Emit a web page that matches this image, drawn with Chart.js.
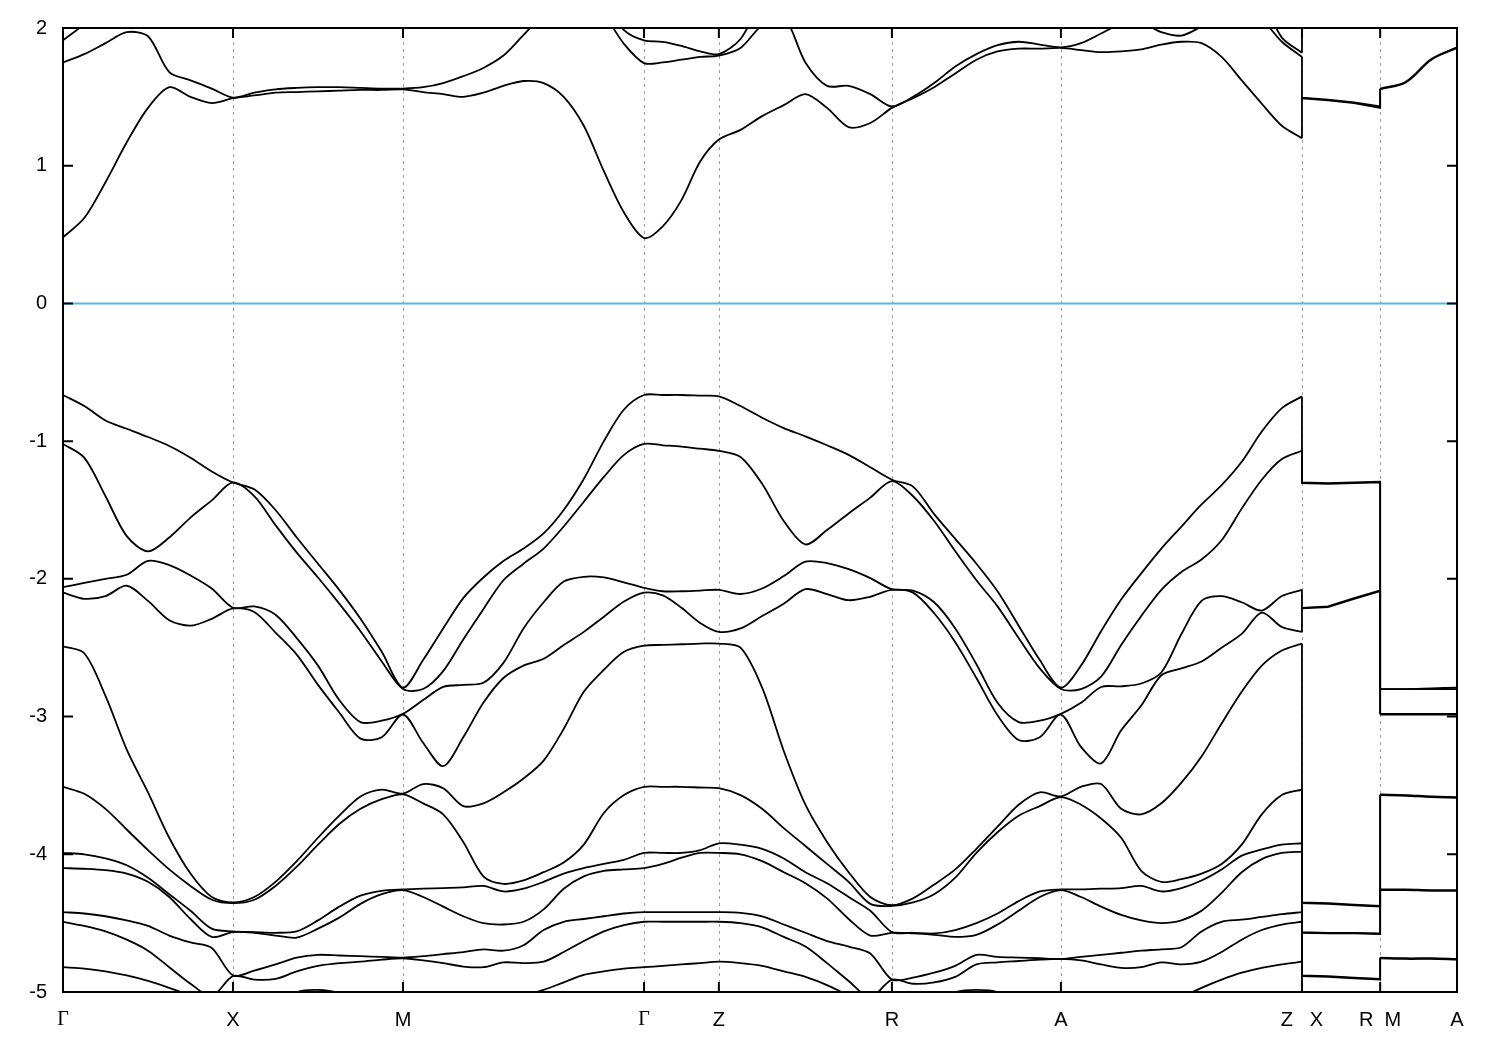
<!DOCTYPE html>
<html>
<head>
<meta charset="utf-8">
<title>Band structure</title>
<script src="https://cdn.jsdelivr.net/npm/chart.js@4.4.0/dist/chart.umd.min.js"></script>
<style>
  html, body { margin: 0; padding: 0; background: #fff; }
  #wrap { width: 1500px; height: 1050px; position: relative; }
</style>
</head>
<body>
<div id="wrap"><canvas id="bandChart"></canvas></div>
<script>
// high-symmetry points along the path (k in units of 2pi/a)
const kTicks = [0, 0.5, 1.0, 1.709, 1.929, 2.438, 2.935, 3.644, 3.874, 4.1];
const kLabels = ['Γ', 'X', 'M', 'Γ', 'Z', 'R', 'A', 'Z   X', 'R  M', 'A'];

// continuous path Γ-X-M-Γ-Z-R-A-Z, then the two short pieces X-R and M-A
const mainNodes = [0, 0.5, 1.0, 1.709, 1.929, 2.438, 2.935, 3.644];
const mainSteps = [8, 8, 12, 4, 8, 8, 12];
const sidePieces = [[3.644, 3.874, 3], [3.874, 4.1, 3]];

const fermiLevel = 0;

// energies (eV) at every sample of the path, one array per band
//             Γ-X | X-M | M-Γ | Γ-Z | Z-R | R-A | A-Z | X-R, M-A
const cb3 = [
  1.91, 2.03, 2.2, 2.3, 2.4, 2.45, 2.45, 2.4, 2.35,
  2.35, 2.35, 2.4, 2.4, 2.4, 2.35, 2.3, 2.3,
  2.3, 2.3, 2.35, 2.4, 2.45, 2.45, 2.45, 2.45, 2.4, 2.2, 1.985, 1.91,
  1.90, 1.87, 1.83, 1.81,
  1.92, 2.2, 2.35, 2.4, 2.4, 2.35, 2.3, 2.25,
  2.25, 2.3, 2.3, 2.35, 2.35, 2.3, 2.3, 2.25,
  2.2, 2.2, 2.25, 2.25, 2.3, 2.3, 2.35, 2.35, 2.3, 2.2, 1.93, 1.82,
  2.3, 2.3, 2.25, 2.25, 2.3, 2.3, 2.25, 2.25
];
const cb2 = [
  1.75, 1.81, 1.89, 1.97, 1.94, 1.68, 1.62, 1.56, 1.495,
  1.53, 1.555, 1.565, 1.57, 1.57, 1.565, 1.56, 1.56,
  1.57, 1.60, 1.65, 1.71, 1.80, 1.95, 2.10, 2.22, 2.25, 2.10, 1.885, 1.745,
  1.75, 1.77, 1.79, 1.80,
  1.855, 2.02, 2.08, 1.75, 1.58, 1.58, 1.52, 1.43,
  1.50, 1.60, 1.72, 1.81, 1.875, 1.90, 1.88, 1.86,
  1.89, 1.96, 2.03, 2.04, 1.97, 1.945, 2.01, 2.08, 2.12, 2.06, 1.90, 1.79,
  1.495, 1.48, 1.46, 1.43, 1.56, 1.61, 1.775, 1.86
];
const cb1 = [
  0.48, 0.62, 0.88, 1.17, 1.42, 1.57, 1.50, 1.455, 1.49,
  1.51, 1.53, 1.535, 1.54, 1.545, 1.55, 1.55, 1.555,
  1.535, 1.52, 1.50, 1.53, 1.58, 1.615, 1.60, 1.50, 1.29, 0.96, 0.66, 0.475,
  0.56, 0.75, 1.03, 1.19,
  1.26, 1.36, 1.44, 1.52, 1.42, 1.28, 1.31, 1.42,
  1.49, 1.57, 1.67, 1.77, 1.83, 1.85, 1.85, 1.855,
  1.84, 1.825, 1.83, 1.845, 1.88, 1.90, 1.89, 1.79, 1.62, 1.45, 1.29, 1.20,
  1.49, 1.475, 1.455, 1.42, 1.555, 1.605, 1.77, 1.855
];
const vb1 = [
  -0.665, -0.745, -0.85, -0.91, -0.97, -1.035, -1.12, -1.22, -1.30,
  -1.35, -1.50, -1.70, -1.89, -2.08, -2.29, -2.53, -2.79,
  -2.59, -2.36, -2.14, -1.99, -1.87, -1.78, -1.67, -1.50, -1.275, -1.00, -0.77, -0.665,
  -0.665, -0.665, -0.67, -0.675,
  -0.745, -0.83, -0.905, -0.965, -1.03, -1.10, -1.19, -1.28,
  -1.33, -1.53, -1.71, -1.89, -2.09, -2.34, -2.59, -2.79,
  -2.63, -2.38, -2.15, -1.96, -1.78, -1.62, -1.46, -1.32, -1.15, -0.93, -0.76, -0.675,
  -1.30, -1.305, -1.30, -1.295, -2.80, -2.80, -2.795, -2.79
];
const vb2 = [
  -1.02, -1.12, -1.40, -1.69, -1.80, -1.70, -1.555, -1.43, -1.30,
  -1.40, -1.61, -1.81, -1.99, -2.18, -2.38, -2.60, -2.80,
  -2.80, -2.67, -2.44, -2.22, -2.01, -1.89, -1.78, -1.62, -1.44, -1.26, -1.10, -1.02,
  -1.03, -1.04, -1.055, -1.07,
  -1.115, -1.31, -1.58, -1.75, -1.645, -1.525, -1.41, -1.29,
  -1.40, -1.58, -1.80, -2.01, -2.20, -2.43, -2.65, -2.80,
  -2.80, -2.71, -2.48, -2.27, -2.08, -1.95, -1.86, -1.72, -1.49, -1.28, -1.13, -1.07,
  -1.305, -1.31, -1.305, -1.30, -2.80, -2.80, -2.80, -2.80
];
const vb3 = [
  -2.06, -2.03, -2.00, -1.97, -1.87, -1.90, -1.975, -2.07, -2.21,
  -2.20, -2.26, -2.43, -2.63, -2.88, -3.04, -3.03, -2.98,
  -2.88, -2.785, -2.77, -2.755, -2.61, -2.36, -2.17, -2.02, -1.985, -1.99, -2.025, -2.065,
  -2.09, -2.09, -2.085, -2.08,
  -2.11, -2.07, -1.98, -1.875, -1.885, -1.93, -1.995, -2.075,
  -2.085, -2.17, -2.36, -2.62, -2.90, -3.04, -3.03, -2.98,
  -2.90, -2.785, -2.78, -2.76, -2.68, -2.40, -2.16, -2.125, -2.17, -2.23, -2.125, -2.08,
  -2.21, -2.20, -2.14, -2.085, -2.98, -2.98, -2.98, -2.98
];
const vb4 = [
  -2.10, -2.145, -2.125, -2.05, -2.16, -2.30, -2.34, -2.29, -2.215,
  -2.24, -2.39, -2.55, -2.77, -2.97, -3.16, -3.15, -2.985,
  -3.19, -3.36, -3.15, -2.90, -2.72, -2.63, -2.58, -2.48, -2.385, -2.275, -2.165, -2.10,
  -2.12, -2.21, -2.32, -2.385,
  -2.36, -2.27, -2.18, -2.075, -2.11, -2.155, -2.13, -2.08,
  -2.10, -2.25, -2.46, -2.72, -2.99, -3.17, -3.15, -2.985,
  -3.22, -3.34, -3.10, -2.92, -2.70, -2.65, -2.60, -2.50, -2.40, -2.245, -2.35, -2.385,
  -2.215, -2.205, -2.145, -2.09, -2.985, -2.985, -2.985, -2.985
];
const vb5 = [
  -2.49, -2.54, -2.85, -3.24, -3.55, -3.88, -4.14, -4.31, -4.35,
  -4.31, -4.20, -4.05, -3.88, -3.72, -3.58, -3.53, -3.56,
  -3.49, -3.52, -3.65, -3.63, -3.55, -3.45, -3.32, -3.09, -2.82, -2.66, -2.53, -2.485,
  -2.48, -2.475, -2.47, -2.47,
  -2.50, -2.79, -3.25, -3.64, -3.91, -4.13, -4.31, -4.37,
  -4.32, -4.22, -4.11, -3.96, -3.80, -3.64, -3.55, -3.58,
  -3.51, -3.49, -3.67, -3.71, -3.63, -3.48, -3.29, -3.05, -2.82, -2.63, -2.52, -2.47,
  -4.35, -4.355, -4.365, -4.375, -3.565, -3.57, -3.58, -3.585
];
const vb6 = [
  -3.51, -3.56, -3.67, -3.82, -3.97, -4.11, -4.23, -4.33, -4.355,
  -4.33, -4.23, -4.09, -3.93, -3.78, -3.67, -3.60, -3.565,
  -3.63, -3.71, -3.91, -4.16, -4.215, -4.19, -4.13, -4.06, -3.93, -3.70, -3.57, -3.51,
  -3.51, -3.51, -3.515, -3.52,
  -3.57, -3.67, -3.81, -3.94, -4.07, -4.20, -4.36, -4.375,
  -4.35, -4.29, -4.17, -3.99, -3.84, -3.72, -3.65, -3.585,
  -3.64, -3.74, -3.88, -4.12, -4.20, -4.18, -4.14, -4.07, -3.93, -3.71, -3.57, -3.53,
  -4.355, -4.36, -4.37, -4.38, -3.57, -3.575, -3.585, -3.59
];
const vb7 = [
  -3.99, -4.00, -4.03, -4.08, -4.17, -4.29, -4.41, -4.54, -4.56,
  -4.565, -4.57, -4.56, -4.48, -4.38, -4.30, -4.265, -4.255,
  -4.25, -4.245, -4.24, -4.23, -4.27, -4.25, -4.20, -4.14, -4.10, -4.07, -4.04, -3.99,
  -3.99, -3.99, -3.97, -3.92,
  -3.93, -3.96, -4.03, -4.13, -4.21, -4.31, -4.41, -4.565,
  -4.57, -4.575, -4.55, -4.50, -4.43, -4.34, -4.27, -4.255,
  -4.255, -4.25, -4.245, -4.23, -4.27, -4.245, -4.19, -4.11, -4.01, -3.965, -3.93, -3.92,
  -4.565, -4.57, -4.57, -4.575, -4.255, -4.255, -4.26, -4.26
];
const vb8 = [
  -4.10, -4.105, -4.115, -4.14, -4.20, -4.31, -4.47, -4.60, -4.565,
  -4.57, -4.59, -4.605, -4.54, -4.46, -4.36, -4.29, -4.26,
  -4.31, -4.38, -4.45, -4.50, -4.51, -4.49, -4.40, -4.25, -4.16, -4.12, -4.11, -4.10,
  -4.07, -4.025, -3.99, -3.99,
  -4.00, -4.05, -4.13, -4.21, -4.32, -4.47, -4.59, -4.57,
  -4.575, -4.585, -4.60, -4.585, -4.51, -4.41, -4.31, -4.26,
  -4.31, -4.38, -4.44, -4.48, -4.50, -4.48, -4.41, -4.28, -4.13, -4.035, -3.99, -3.98,
  -4.57, -4.575, -4.575, -4.58, -4.26, -4.26, -4.265, -4.265
];
const vb9 = [
  -4.42, -4.43, -4.45, -4.48, -4.52, -4.59, -4.64, -4.68, -4.88,
  -4.845, -4.80, -4.75, -4.73, -4.735, -4.74, -4.745, -4.75,
  -4.74, -4.725, -4.71, -4.69, -4.70, -4.66, -4.55, -4.49, -4.47, -4.45, -4.43, -4.42,
  -4.42, -4.42, -4.42, -4.42,
  -4.425, -4.45, -4.51, -4.57, -4.63, -4.67, -4.72, -4.91,
  -4.895, -4.86, -4.81, -4.73, -4.745, -4.75, -4.755, -4.76,
  -4.745, -4.73, -4.715, -4.70, -4.69, -4.675, -4.56, -4.49, -4.475, -4.455, -4.435, -4.42,
  -4.88, -4.885, -4.895, -4.905, -4.75, -4.755, -4.755, -4.76
];
const vb10 = [
  -4.49, -4.52, -4.56, -4.62, -4.70, -4.82, -4.94, -5.03, -4.885,
  -4.91, -4.905, -4.85, -4.81, -4.79, -4.78, -4.765, -4.755,
  -4.77, -4.79, -4.815, -4.82, -4.785, -4.79, -4.78, -4.71, -4.63, -4.56, -4.515, -4.49,
  -4.49, -4.49, -4.49, -4.49,
  -4.50, -4.53, -4.60, -4.67, -4.79, -4.92, -5.04, -4.91,
  -4.94, -4.93, -4.89, -4.80, -4.785, -4.775, -4.765, -4.76,
  -4.77, -4.80, -4.825, -4.82, -4.785, -4.80, -4.78, -4.71, -4.62, -4.55, -4.51, -4.49,
  -4.885, -4.89, -4.90, -4.91, -4.755, -4.76, -4.76, -4.765
];
const vb11 = [
  -4.82, -4.83, -4.85, -4.88, -4.92, -4.97, -5.03, -5.15, -5.3,
  -5.2, -5.08, -5.0, -4.985, -5.01, -5.1, -5.2, -5.3,
  -5.28, -5.25, -5.2, -5.14, -5.08, -5.03, -4.985, -4.93, -4.875, -4.85, -4.83, -4.82,
  -4.81, -4.80, -4.79, -4.78,
  -4.79, -4.81, -4.85, -4.89, -4.95, -5.03, -5.15, -5.3,
  -5.2, -5.06, -5.0, -4.985, -5.0, -5.08, -5.2, -5.3,
  -5.3, -5.28, -5.25, -5.2, -5.12, -5.04, -4.97, -4.91, -4.86, -4.825, -4.80, -4.78,
  -5.35, -5.35, -5.35, -5.35, -5.35, -5.35, -5.35, -5.35
];

const bands = [cb3, cb2, cb1, vb1, vb2, vb3, vb4, vb5, vb6, vb7, vb8, vb9, vb10, vb11];

// sample positions along the path
function buildPath() {
  const ks = [];
  for (let s = 0; s < mainSteps.length; s++) {
    const k0 = mainNodes[s], k1 = mainNodes[s + 1];
    for (let j = 0; j < mainSteps[s]; j++) ks.push(k0 + (k1 - k0) * j / mainSteps[s]);
  }
  ks.push(mainNodes[mainNodes.length - 1]);
  sidePieces.forEach(function (p) {
    for (let j = 0; j <= p[2]; j++) ks.push(p[0] + (p[1] - p[0]) * j / p[2]);
  });
  return ks;
}

const kPath = buildPath();
const zIndex = kPath.length - 9;   // last point of the continuous path (Z)
const mIndex = kPath.length - 4;   // start of the M-A piece

function piece(band, from, to, tension) {
  return {
    data: kPath.slice(from, to).map(function (k, i) { return { x: k, y: band[from + i] }; }),
    borderColor: '#000',
    borderWidth: 1.8,
    tension: tension
  };
}

function makeDatasets() {
  const sets = [{
    data: [{ x: kTicks[0], y: fermiLevel }, { x: kTicks[kTicks.length - 1], y: fermiLevel }],
    borderColor: '#56b4e9',
    borderWidth: 2,
    tension: 0
  }];
  bands.forEach(function (band) {
    sets.push(piece(band, 0, zIndex + 1, 0.3));         // Γ ... Z
    sets.push(piece(band, zIndex, mIndex + 1, 0));      // jump Z|X, X-R, jump R|M
    sets.push(piece(band, mIndex, kPath.length, 0.35)); // M-A
  });
  return sets;
}

// gnuplot style frame: dashed lines at k-points, box border, inward ticks
const framePlugin = {
  id: 'frame',
  beforeDatasetsDraw: function (chart) {
    const ctx = chart.ctx, a = chart.chartArea, x = chart.scales.x;
    ctx.save();
    ctx.strokeStyle = '#a0a0a0';
    ctx.lineWidth = 1;
    ctx.setLineDash([3, 4]);
    kTicks.forEach(function (k) {
      const px = Math.round(x.getPixelForValue(k)) + 0.5;
      ctx.beginPath();
      ctx.moveTo(px, a.top);
      ctx.lineTo(px, a.bottom);
      ctx.stroke();
    });
    ctx.restore();
  },
  afterDatasetsDraw: function (chart) {
    const ctx = chart.ctx, a = chart.chartArea, x = chart.scales.x, y = chart.scales.y;
    ctx.save();
    ctx.strokeStyle = '#000';
    ctx.lineWidth = 2;
    ctx.strokeRect(a.left, a.top, a.right - a.left, a.bottom - a.top);
    ctx.beginPath();
    y.ticks.forEach(function (t) {
      const py = y.getPixelForValue(t.value);
      ctx.moveTo(a.left, py); ctx.lineTo(a.left + 10, py);
      ctx.moveTo(a.right, py); ctx.lineTo(a.right - 10, py);
    });
    kTicks.forEach(function (k) {
      const px = x.getPixelForValue(k);
      ctx.moveTo(px, a.bottom); ctx.lineTo(px, a.bottom - 10);
      ctx.moveTo(px, a.top); ctx.lineTo(px, a.top + 10);
    });
    ctx.stroke();
    ctx.restore();
  }
};

new Chart(document.getElementById('bandChart'), {
  type: 'line',
  data: { datasets: makeDatasets() },
  plugins: [framePlugin],
  options: {
    responsive: true,
    maintainAspectRatio: false,
    animation: false,
    devicePixelRatio: 1,
    layout: { padding: { top: 28, right: 43, left: 0, bottom: 0 } },
    elements: { point: { radius: 0 }, line: { capBezierPoints: false } },
    plugins: { legend: { display: false }, tooltip: { enabled: false } },
    scales: {
      x: {
        type: 'linear',
        min: kTicks[0],
        max: kTicks[kTicks.length - 1],
        afterBuildTicks: function (scale) {
          scale.ticks = kTicks.map(function (v) { return { value: v }; });
        },
        afterFit: function (scale) { scale.height = 58; },
        grid: { display: false, drawTicks: false },
        border: { display: false },
        ticks: {
          autoSkip: false,
          maxRotation: 0,
          padding: 16,
          color: '#000',
          callback: function (value, index) { return kLabels[index]; },
          font: function (c) {
            const serif = c.tick && c.tick.label === 'Γ';
            return { family: serif ? 'Liberation Serif' : 'Liberation Sans', size: 20 };
          }
        }
      },
      y: {
        type: 'linear',
        min: -5,
        max: 2,
        afterFit: function (scale) { scale.width = 63; },
        grid: { display: false, drawTicks: false },
        border: { display: false },
        ticks: {
          stepSize: 1,
          padding: 16,
          color: '#000',
          font: { family: 'Liberation Sans', size: 20 }
        }
      }
    }
  }
});
</script>
</body>
</html>
